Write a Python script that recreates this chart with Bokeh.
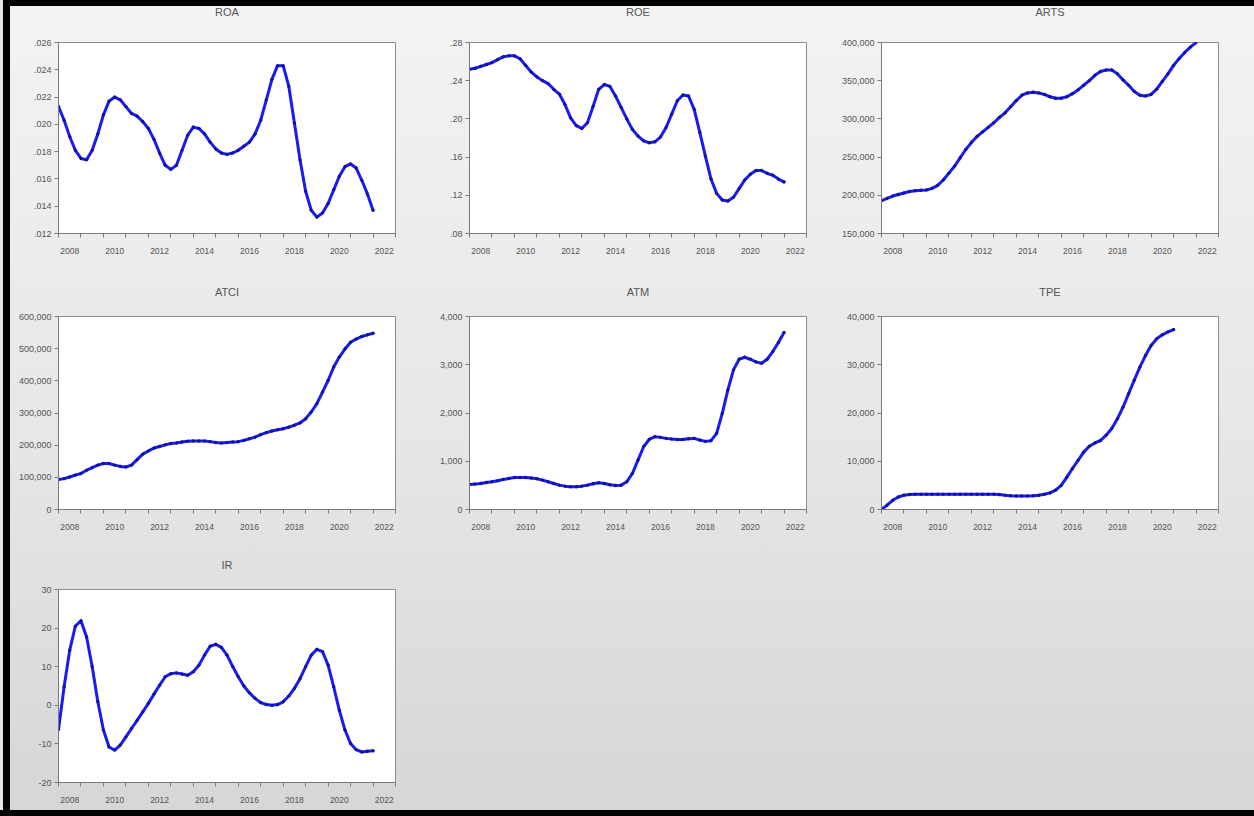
from bokeh.embed import file_html
from bokeh.layouts import column, row
from bokeh.models import (ColumnDataSource, CustomJSTickFormatter, FixedTicker, Range1d,
                          Spacer, Title)
from bokeh.plotting import figure
from bokeh.resources import INLINE

# ---------------------------------------------------------------------------
# Quarterly series, 2008Q1 onwards
# ---------------------------------------------------------------------------
FIRST_YEAR = 2008

year_bounds = list(range(2008, 2024))
label_years = [2008, 2010, 2012, 2014, 2016, 2018, 2020, 2022]
year_labels = ["2008", "2010", "2012", "2014", "2016", "2018", "2020", "2022"]

roa = [0.0213, 0.0203, 0.0191, 0.0181,
       0.0175, 0.0174, 0.0181, 0.0193,
       0.0207, 0.0217, 0.0220, 0.0218,
       0.0213, 0.0208, 0.0206, 0.0202,
       0.0197, 0.0189, 0.0179, 0.0170,
       0.0167, 0.0170, 0.0181, 0.0192,
       0.0198, 0.0197, 0.0193, 0.0187,
       0.0182, 0.0179, 0.0178, 0.0179,
       0.0181, 0.0184, 0.0187, 0.0193,
       0.0203, 0.0218, 0.0233, 0.0243,
       0.0243, 0.0228, 0.0201, 0.0174,
       0.0151, 0.0137, 0.0132, 0.0135,
       0.0142, 0.0152, 0.0162, 0.0169,
       0.0171, 0.0168, 0.0159, 0.0149,
       0.0137]

roe = [0.252, 0.253, 0.255, 0.257,
       0.259, 0.262, 0.265, 0.266,
       0.266, 0.263, 0.256, 0.249,
       0.244, 0.240, 0.237, 0.231,
       0.226, 0.215, 0.201, 0.193,
       0.190, 0.196, 0.213, 0.231,
       0.236, 0.234, 0.224, 0.212,
       0.200, 0.189, 0.182, 0.177,
       0.175, 0.176, 0.181, 0.191,
       0.205, 0.219, 0.225, 0.224,
       0.210, 0.186, 0.161, 0.137,
       0.122, 0.115, 0.114, 0.118,
       0.127, 0.136, 0.142, 0.146,
       0.146, 0.143, 0.141, 0.137,
       0.134]

arts = [193000, 196000, 199000, 201000,
        203000, 205000, 206000, 206500,
        207000, 209000, 213000, 220000,
        229000, 238000, 249000, 260000,
        269000, 277000, 283000, 289000,
        295000, 302000, 308000, 316000,
        324000, 331000, 334000, 335000,
        334000, 332000, 329000, 327000,
        327000, 329000, 333000, 338000,
        344000, 350000, 357000, 362000,
        364000, 364000, 359000, 351000,
        344000, 336000, 331000, 330000,
        332000, 339000, 349000, 359000,
        370000, 379000, 387000, 394000,
        400000]

atci = [93000, 96000, 101000, 107000,
        112000, 122000, 130000, 138000,
        143000, 143000, 138000, 134000,
        132000, 138000, 155000, 172000,
        182000, 191000, 196000, 201000,
        205000, 207000, 210000, 212000,
        213000, 213000, 213000, 211000,
        208000, 207000, 208000, 210000,
        211000, 215000, 220000, 225000,
        233000, 239000, 244000, 248000,
        251000, 256000, 262000, 269000,
        282000, 303000, 329000, 365000,
        401000, 443000, 474000, 499000,
        520000, 530000, 538000, 543000,
        548000]

atm = [519, 526, 540, 560,
       574, 595, 623, 644,
       664, 664, 664, 651,
       637, 609, 574, 540,
       505, 484, 471, 471,
       484, 505, 533, 554,
       540, 512, 498, 505,
       574, 747, 1024, 1301,
       1453, 1509, 1495, 1474,
       1460, 1453, 1453, 1467,
       1474, 1439, 1412, 1426,
       1578, 1993, 2478, 2893,
       3114, 3156, 3114, 3059,
       3031, 3114, 3273, 3460,
       3668]

tpe = [0, 900, 1900, 2600,
       2950, 3100, 3150, 3150,
       3150, 3150, 3150, 3150,
       3150, 3150, 3150, 3150,
       3150, 3150, 3150, 3150,
       3150, 3100, 2950, 2850,
       2800, 2800, 2800, 2850,
       2950, 3150, 3450, 4000,
       5000, 6700, 8500, 10200,
       11900, 13100, 13800, 14300,
       15400, 16800, 18800, 21200,
       24000, 26800, 29500, 31900,
       34000, 35400, 36200, 36800,
       37300]

ir = [-6.3, 4.8, 14.3, 20.5,
      21.9, 17.7, 10.0, 0.9,
      -6.4, -10.8, -11.6, -10.3,
      -8.2, -6.0, -3.9, -1.7,
      0.5, 2.9, 5.2, 7.4,
      8.2, 8.4, 8.1, 7.8,
      8.7, 10.4, 13.0, 15.3,
      15.8, 15.0, 13.0, 10.1,
      7.4, 5.0, 3.2, 1.8,
      0.7, 0.2, 0.0, 0.2,
      0.9, 2.4, 4.4, 6.9,
      10.0, 13.0, 14.5, 13.9,
      10.4, 4.8, -1.3, -6.4,
      -9.9, -11.5, -12.1, -11.9,
      -11.8]

# y-axis ticks and their printed labels
roa_ticks = [0.012, 0.014, 0.016, 0.018, 0.020, 0.022, 0.024, 0.026]
roa_labels = [".012", ".014", ".016", ".018", ".020", ".022", ".024", ".026"]
roe_ticks = [0.08, 0.12, 0.16, 0.20, 0.24, 0.28]
roe_labels = [".08", ".12", ".16", ".20", ".24", ".28"]
arts_ticks = [150000, 200000, 250000, 300000, 350000, 400000]
arts_labels = ["150,000", "200,000", "250,000", "300,000", "350,000", "400,000"]
atci_ticks = [0, 100000, 200000, 300000, 400000, 500000, 600000]
atci_labels = ["0", "100,000", "200,000", "300,000", "400,000", "500,000", "600,000"]
atm_ticks = [0, 1000, 2000, 3000, 4000]
atm_labels = ["0", "1,000", "2,000", "3,000", "4,000"]
tpe_ticks = [0, 10000, 20000, 30000, 40000]
tpe_labels = ["0", "10,000", "20,000", "30,000", "40,000"]
ir_ticks = [-20, -10, 0, 10, 20, 30]
ir_labels = ["-20", "-10", "0", "10", "20", "30"]

# ---------------------------------------------------------------------------
FONT = "Liberation Sans"
LINE_BLUE = "#1a1af5"
DOT_NAVY = "#12128a"
TEXT_GREY = "#555555"
AXIS_GREY = "#7a7a7a"

PICK_LABEL = """
let best = 0;
for (let i = 1; i < pos.length; i++) {
  if (Math.abs(pos[i] - tick) < Math.abs(pos[best] - tick)) best = i;
}
return names[best];
"""


def quarter_dates(n):
    return [FIRST_YEAR + 0.25 * i for i in range(n)]


def make_panel(name, series, ticks, labels, width, height,
               left, right, top, bottom, gap_px):
    p = figure(width=width, height=height, output_backend="svg",
               toolbar_location=None,
               x_range=Range1d(year_bounds[0], year_bounds[-1]),
               y_range=Range1d(ticks[0], ticks[-1]),
               min_border_left=left, min_border_right=right,
               min_border_top=top, min_border_bottom=bottom,
               background_fill_color="white", border_fill_alpha=0,
               outline_line_color="#8c8c8c", outline_line_width=1)
    p.grid.visible = False

    # blank band between the heading and the plot frame
    p.add_layout(Title(text=" ", text_font_size=f"{gap_px}px", standoff=0), "above")

    p.title.text = name
    p.title.align = "center"
    p.title.text_font = FONT
    p.title.text_font_size = "11px"
    p.title.text_font_style = "normal"
    p.title.text_color = TEXT_GREY
    p.title.standoff = 0

    # x axis: tick marks at every year start, labels centred in even years
    label_pos = [y + 0.5 for y in label_years]
    xa = p.xaxis[0]
    xa.ticker = FixedTicker(ticks=label_pos, minor_ticks=year_bounds)
    xa.formatter = CustomJSTickFormatter(
        args=dict(pos=label_pos, names=year_labels), code=PICK_LABEL)
    xa.major_tick_out = 0
    xa.major_tick_in = 0
    xa.minor_tick_out = 4
    xa.minor_tick_in = 0
    xa.minor_tick_line_color = AXIS_GREY
    xa.axis_line_color = AXIS_GREY
    xa.major_label_standoff = 10
    xa.major_label_text_font = FONT
    xa.major_label_text_font_size = "8.5px"
    xa.major_label_text_color = TEXT_GREY

    ya = p.yaxis[0]
    ya.ticker = FixedTicker(ticks=ticks, minor_ticks=[])
    ya.formatter = CustomJSTickFormatter(args=dict(pos=ticks, names=labels),
                                         code=PICK_LABEL)
    ya.major_tick_out = 4
    ya.major_tick_in = 0
    ya.major_tick_line_color = AXIS_GREY
    ya.minor_tick_line_color = None
    ya.axis_line_color = AXIS_GREY
    ya.major_label_standoff = 3
    ya.major_label_text_font = FONT
    ya.major_label_text_font_size = "9px"
    ya.major_label_text_color = TEXT_GREY

    src = ColumnDataSource(dict(x=quarter_dates(len(series)), y=series))
    p.line("x", "y", source=src, line_color=LINE_BLUE, line_width=3,
           line_join="round", line_cap="round")
    p.scatter("x", "y", source=src, size=2.5, color=DOT_NAVY, alpha=0.8)
    return p


def left_strip(h):
    return Spacer(width=10, height=h, styles={
        "background": "linear-gradient(to right, #e4e4e4 0px, #e4e4e4 3px, #000 3px)"})


# row geometry: (figure height, top border, bottom border, heading gap font px)
# the first row starts at the very top; the black top edge is painted behind it
R1 = (279, 42, 46, 21)
R2 = (273, 37, 43, 16)
R3 = (258, 37, 28, 16)
# column geometry: (figure width, left border, right border)
C1 = (411, 48, 26)
C2 = (411, 48, 26)
C3 = (422, 49, 36)


def cell(name, series, ticks, labels, r, c):
    return make_panel(name, series, ticks, labels, c[0], r[0],
                      c[1], c[2], r[1], r[2], r[3])


row1 = row(left_strip(R1[0]),
           cell("ROA", roa, roa_ticks, roa_labels, R1, C1),
           cell("ROE", roe, roe_ticks, roe_labels, R1, C2),
           cell("ARTS", arts, arts_ticks, arts_labels, R1, C3))
row2 = row(left_strip(R2[0]),
           cell("ATCI", atci, atci_ticks, atci_labels, R2, C1),
           cell("ATM", atm, atm_ticks, atm_labels, R2, C2),
           cell("TPE", tpe, tpe_ticks, tpe_labels, R2, C3))
row3 = row(left_strip(R3[0]),
           cell("IR", ir, ir_ticks, ir_labels, R3, C1))

bottom_bar = Spacer(width=1254, height=6, styles={"background": "#000"})

page = column(row1, row2, row3, bottom_bar,
              styles={"background": "linear-gradient(to bottom, #000 0px, #000 6px, "
                                    "#f3f3f3 6px, #e6e6e6 55%, #d6d6d6 100%)"})

open("out.html", "w").write(file_html(page, INLINE))
